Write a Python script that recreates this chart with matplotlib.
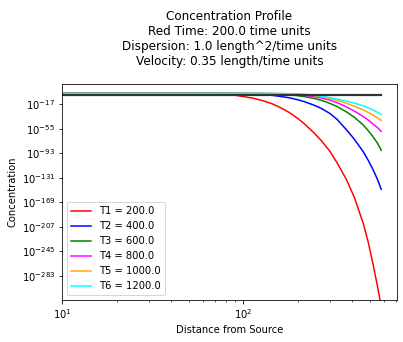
import numpy as np
from matplotlib import pyplot as plt
from matplotlib.ticker import NullLocator

# Distance values (shared by all curves)
distance = [10, 40, 60, 75, 90, 100, 115, 130, 145, 160, 180, 200, 220, 245,
            270, 300, 330, 370, 410, 460, 490, 520, 550, 570, 578]

# log10 of concentration, one list per time
# (the last red value is below float range and comes out as 0)
t1_exp = [0, 0, -0.3, -1, -3, -5, -8, -12, -16.5, -22, -30, -39, -48.6, -61,
          -73.5, -89.5, -108, -133, -161, -202, -231, -264, -298, -321, -334]
t2_exp = [0, 0, 0, 0, -0.3, -0.6, -1.2, -2, -3.2, -4.8, -7, -10, -13.5, -18.2,
          -23.5, -31, -40.5, -56, -71, -90.6, -104, -118, -133, -144.5, -149]
t3_exp = [0, 0, 0, 0, 0, 0, -0.2, -0.5, -1, -1.6, -2.5, -3.7, -5.3, -7.8,
          -10.8, -15.5, -20.5, -28.5, -37, -49.2, -58, -67, -77, -85, -88.5]
t4_exp = [0, 0, 0, 0, 0, 0, 0, -0.2, -0.4, -0.7, -1.2, -2, -3.2, -5,
          -7.3, -10.4, -14.5, -20.8, -27.5, -36, -41.5, -47.5, -53, -57.3, -59]
t5_exp = [0, 0, 0, 0, 0, 0, 0, 0, -0.2, -0.4, -0.8, -1.3, -2.1, -3.5,
          -5.3, -7.8, -10.8, -15.3, -20, -25.9, -29.7, -33.7, -37.8, -40.7, -41.9]
t6_exp = [0, 0, 0, 0, 0, 0, 0, 0, -0.1, -0.3, -0.6, -1, -1.7, -2.8,
          -4.5, -6.6, -8.9, -12, -15.2, -19.3, -22.5, -25.8, -29.2, -31.6, -32.6]

times = [200.0, 400.0, 600.0, 800.0, 1000.0, 1200.0]
colours = ["red", "blue", "green", "magenta", "orange", "cyan"]
ref_level = 1e-2

fig = plt.figure(figsize=(403 / 72, 342 / 72), dpi=72)
ax = fig.add_axes([0.1546, 0.1228, 0.8298, 0.633])

all_exp = [t1_exp, t2_exp, t3_exp, t4_exp, t5_exp, t6_exp]
for i in range(len(times)):
    conc = 10.0 ** np.array(all_exp[i], dtype=float)
    ax.plot(distance, conc, color=colours[i], label="T%d = %s" % (i + 1, times[i]))

# reference line across the top
ax.plot([distance[0], distance[-1]], [ref_level, ref_level], color="#333333", linewidth=2.2)

ax.set_xscale("log")
ax.set_yscale("log", nonpositive="clip")
ax.set_xlim(10, 704)
ax.set_ylim(10.0 ** -320.7, 10.0 ** 15.2)
ax.set_yticks([10.0 ** k for k in range(-283, 0, 38)])
ax.yaxis.set_minor_locator(NullLocator())

ax.set_xlabel("Distance from Source")
ax.set_ylabel("Concentration")
ax.set_title("Concentration Profile\nRed Time: 200.0 time units\n"
             "Dispersion: 1.0 length^2/time units\nVelocity: 0.35 length/time units",
             pad=19)
ax.legend(loc="lower left")

fig.savefig("out.png", dpi=72)
